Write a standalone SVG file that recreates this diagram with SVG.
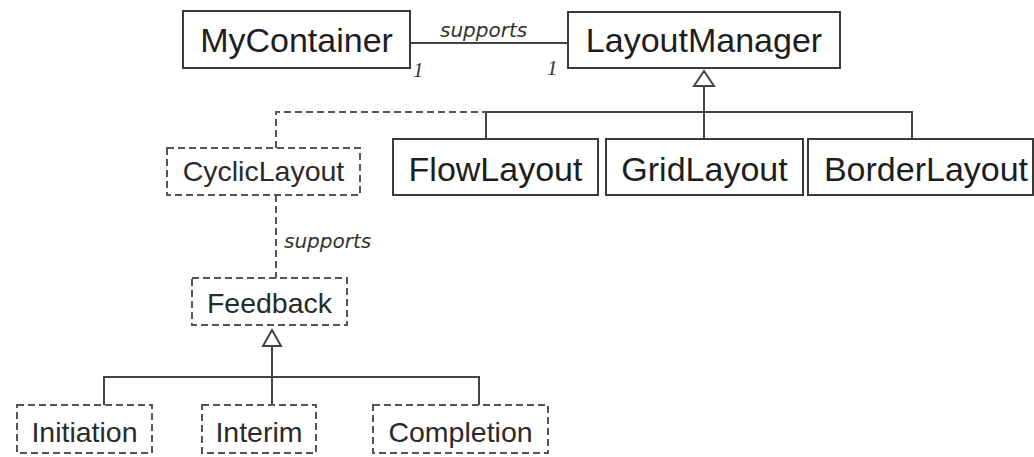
<svg xmlns="http://www.w3.org/2000/svg" width="1034" height="457" viewBox="0 0 1034 457">
  <style>
    .box { fill: #ffffff; stroke: #3a3a3a; stroke-width: 2; }
    .dbox { fill: #ffffff; stroke: #555555; stroke-width: 2; stroke-dasharray: 7 4; }
    .big { font-family: "Liberation Sans", Arial, sans-serif; font-size: 34px; fill: #1e1e1e; text-anchor: middle; }
    .mid { font-family: "Liberation Sans", Arial, sans-serif; font-size: 28.5px; fill: #2a2a2a; text-anchor: middle; }
    .lbl { font-family: "DejaVu Sans", sans-serif; font-style: italic; font-size: 20px; fill: #333333; }
    .mult { font-family: "Liberation Serif", serif; font-style: italic; font-size: 21px; fill: #333333; }
    .line { fill: none; stroke: #444444; stroke-width: 2; }
    .dline { fill: none; stroke: #555555; stroke-width: 2; stroke-dasharray: 7 4; }
    .tri { fill: #ffffff; stroke: #444444; stroke-width: 2; stroke-linejoin: miter; }
  </style>

  <!-- connectors -->
  <g id="connectors">
    <!-- association MyContainer - LayoutManager -->
    <line class="line" x1="410" y1="43" x2="568" y2="43"/>
    <text class="lbl" x="440" y="37">supports</text>
    <text class="mult" x="413" y="77">1</text>
    <text class="mult" x="547" y="75">1</text>

    <!-- generalisation to LayoutManager -->
    <polyline class="line" points="486,139 486,112 912,112 912,139"/>
    <line class="line" x1="704" y1="86" x2="704" y2="139"/>
    <polygon class="tri" points="704,71 694,86 714,86"/>

    <!-- CyclicLayout realises LayoutManager -->
    <polyline class="dline" points="276,148 276,112 485,112"/>

    <!-- CyclicLayout supports Feedback -->
    <line class="dline" x1="276" y1="195" x2="276" y2="278"/>
    <text class="lbl" x="284" y="248">supports</text>

    <!-- generalisation to Feedback -->
    <polyline class="line" points="104,405 104,377 479,377 479,405"/>
    <line class="line" x1="272" y1="346" x2="272" y2="405"/>
    <polygon class="tri" points="272,330 263,346 281,346"/>
  </g>

  <g id="MyContainer">
    <rect class="box" x="183" y="11" width="227" height="57"/>
    <text class="big" x="296.5" y="52">MyContainer</text>
  </g>

  <g id="LayoutManager">
    <rect class="box" x="568" y="12" width="272" height="56"/>
    <text class="big" x="704" y="52">LayoutManager</text>
  </g>

  <g id="FlowLayout">
    <rect class="box" x="393" y="139" width="205" height="56"/>
    <text class="big" x="495.5" y="181">FlowLayout</text>
  </g>

  <g id="GridLayout">
    <rect class="box" x="606" y="139" width="197" height="56"/>
    <text class="big" x="704.5" y="181">GridLayout</text>
  </g>

  <g id="BorderLayout">
    <rect class="box" x="808" y="139" width="225" height="56"/>
    <text class="big" x="926" y="181">BorderLayout</text>
  </g>

  <g id="CyclicLayout">
    <rect class="dbox" x="167" y="148" width="193" height="47"/>
    <text class="mid" x="263.5" y="181">CyclicLayout</text>
  </g>

  <g id="Feedback">
    <rect class="dbox" x="192" y="278" width="155" height="47"/>
    <text class="mid" x="269.5" y="313">Feedback</text>
  </g>

  <g id="Initiation">
    <rect class="dbox" x="17" y="405" width="135" height="48"/>
    <text class="mid" x="84.5" y="442">Initiation</text>
  </g>

  <g id="Interim">
    <rect class="dbox" x="202" y="405" width="114" height="48"/>
    <text class="mid" x="259" y="442">Interim</text>
  </g>

  <g id="Completion">
    <rect class="dbox" x="373" y="405" width="175" height="48"/>
    <text class="mid" x="460.5" y="442">Completion</text>
  </g>
</svg>
